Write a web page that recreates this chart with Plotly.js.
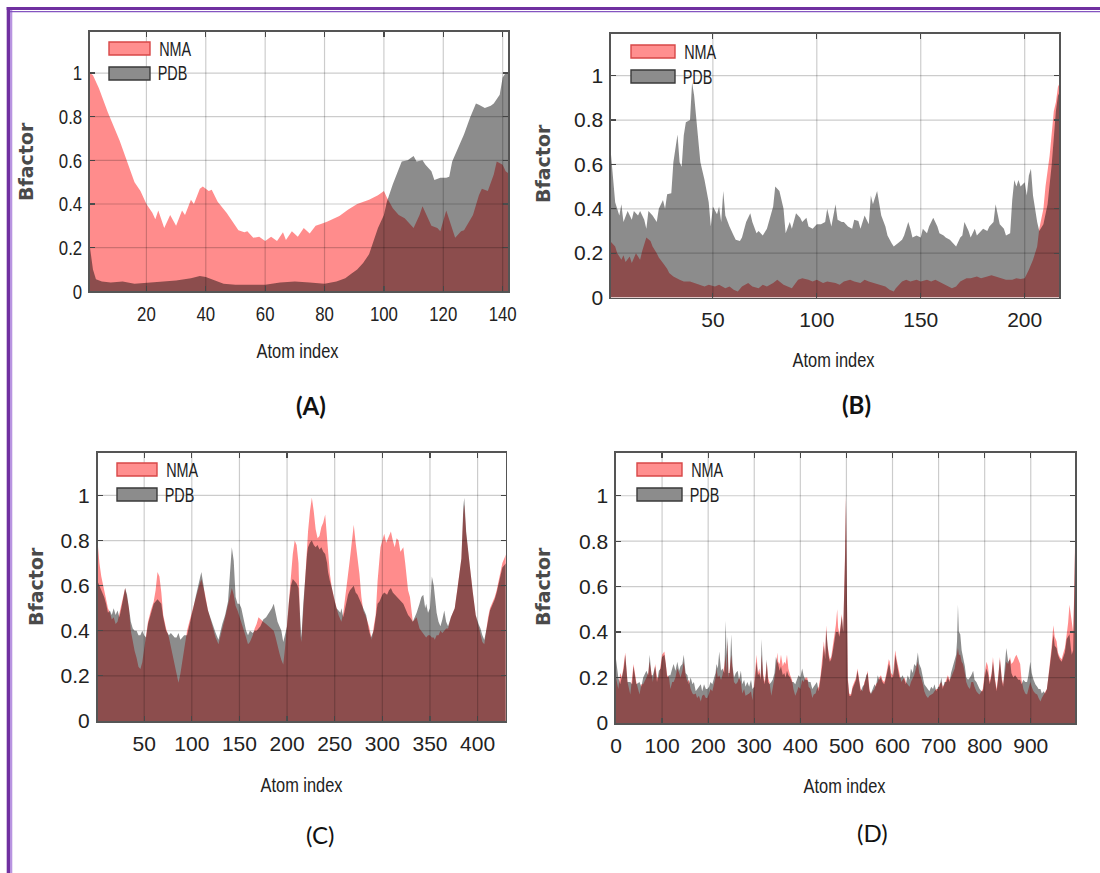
<!DOCTYPE html>
<html>
<head>
<meta charset="utf-8">
<script src="https://cdn.plot.ly/plotly-3.0.1.min.js"></script>
<style>
  html, body { margin: 0; padding: 0; background: #ffffff; }
  #chart { width: 1100px; height: 873px; }
</style>
</head>
<body>
<div id="chart"></div>
<script>
// ---------------- DATA ----------------
// Panel A
const A_nma_x = [1,2,4,7,11,14,16,18,20,22,23,24,26,28,30,32,33,35,36,38,39,41,42,44,47,49,51,53,54,56,58,60,62,64,66,67,69,71,73,75,77,79,81,85,88,91,95,98,100,101,103,105,107,109,110,112,113,114,116,118,119,121,122,124,126,127,130,132,133,135,137,138,140,141,142];
const A_nma_y = [1.0,0.99,0.93,0.82,0.69,0.57,0.5,0.46,0.40,0.36,0.33,0.37,0.29,0.35,0.30,0.37,0.35,0.42,0.40,0.47,0.48,0.46,0.465,0.41,0.36,0.32,0.28,0.27,0.275,0.245,0.25,0.23,0.25,0.23,0.27,0.235,0.275,0.25,0.29,0.265,0.30,0.31,0.32,0.345,0.375,0.40,0.42,0.44,0.46,0.43,0.38,0.35,0.335,0.305,0.29,0.35,0.39,0.36,0.30,0.29,0.275,0.37,0.33,0.245,0.275,0.28,0.35,0.44,0.47,0.46,0.535,0.595,0.58,0.55,0.54];
const A_pdb_x = [1,2,3,5,8,12,16,20,25,30,35,38,40,43,46,50,55,60,65,70,75,80,84,87,89,91,93,95,96,98,100,101,103,105,106,108,110,111,113,114,116,117,119,121,122,123,125,127,129,131,132,134,136,137,139,140,141,142];
const A_pdb_y = [0.20,0.10,0.055,0.045,0.04,0.045,0.035,0.04,0.045,0.05,0.06,0.07,0.065,0.05,0.035,0.03,0.03,0.03,0.04,0.045,0.04,0.035,0.045,0.06,0.08,0.10,0.13,0.17,0.21,0.29,0.35,0.41,0.49,0.565,0.595,0.60,0.62,0.595,0.60,0.58,0.55,0.51,0.52,0.52,0.525,0.595,0.655,0.72,0.795,0.86,0.855,0.84,0.85,0.86,0.90,0.98,1.0,1.0];

// Panel B
const B_pdb_x = [1,2,3,5,6,7,9,11,12,14,15,17,18,19,21,23,24,26,27,28,30,31,33,34,35,36,37,39,40,41,42,43,44,46,48,49,50,52,53,54,55,56,58,60,61,63,64,66,68,69,71,72,74,76,77,79,80,82,84,85,87,88,90,92,93,95,96,98,100,102,104,105,107,109,110,112,113,115,117,118,120,121,123,125,126,127,129,130,131,133,134,136,137,139,141,142,144,145,146,148,150,151,153,154,156,158,159,161,162,164,166,167,169,170,171,173,174,176,177,178,180,182,183,185,186,188,190,191,193,194,195,196,197,198,200,201,202,203,204,206,207,209,211,213,214,215,216,217];
const B_pdb_y = [0.645,0.53,0.43,0.37,0.42,0.34,0.39,0.35,0.39,0.37,0.39,0.35,0.31,0.39,0.37,0.34,0.40,0.44,0.40,0.465,0.47,0.61,0.735,0.61,0.59,0.73,0.79,0.80,0.97,0.91,0.82,0.71,0.61,0.53,0.43,0.32,0.41,0.375,0.41,0.34,0.48,0.37,0.32,0.28,0.26,0.255,0.27,0.34,0.38,0.34,0.29,0.30,0.28,0.31,0.34,0.41,0.50,0.48,0.40,0.29,0.34,0.31,0.38,0.36,0.34,0.36,0.32,0.31,0.33,0.33,0.34,0.40,0.32,0.42,0.35,0.34,0.34,0.32,0.31,0.35,0.345,0.31,0.37,0.33,0.46,0.42,0.48,0.43,0.37,0.32,0.28,0.245,0.23,0.245,0.26,0.28,0.34,0.31,0.27,0.28,0.27,0.31,0.29,0.32,0.36,0.32,0.29,0.28,0.27,0.26,0.24,0.23,0.27,0.28,0.34,0.30,0.27,0.31,0.28,0.29,0.31,0.30,0.32,0.34,0.42,0.33,0.31,0.28,0.29,0.44,0.53,0.50,0.53,0.50,0.52,0.46,0.55,0.58,0.46,0.34,0.30,0.33,0.42,0.60,0.74,0.84,0.91,0.93];
const B_nma_x = [1,3,4,6,7,8,10,11,13,15,16,17,18,20,21,23,24,26,28,29,31,34,36,39,41,44,46,48,51,53,56,58,60,62,64,67,69,72,74,76,79,81,84,86,88,91,93,96,98,100,103,105,109,111,113,116,118,121,123,125,128,130,133,135,137,138,141,143,145,148,150,153,155,157,160,162,165,167,169,172,174,177,179,182,184,186,189,191,194,196,198,200,202,204,206,207,209,210,212,214,215,216,217];
const B_nma_y = [0.25,0.23,0.20,0.17,0.19,0.16,0.185,0.155,0.20,0.17,0.21,0.245,0.27,0.255,0.23,0.20,0.18,0.155,0.13,0.11,0.095,0.08,0.072,0.072,0.065,0.057,0.05,0.057,0.05,0.057,0.042,0.05,0.035,0.027,0.05,0.065,0.05,0.042,0.057,0.05,0.065,0.08,0.057,0.05,0.042,0.08,0.087,0.08,0.072,0.08,0.065,0.072,0.065,0.057,0.072,0.08,0.072,0.065,0.08,0.072,0.065,0.057,0.05,0.035,0.027,0.042,0.072,0.08,0.072,0.08,0.072,0.08,0.072,0.08,0.065,0.057,0.042,0.05,0.072,0.087,0.087,0.095,0.087,0.095,0.10,0.095,0.087,0.08,0.08,0.087,0.083,0.087,0.125,0.17,0.23,0.31,0.40,0.50,0.64,0.84,0.88,0.95,0.97];

// Panel C (shared atom index)
const C_x   = [1,3,5,8,10,12,14,16,18,20,22,24,26,28,30,32,34,36,38,40,42,44,46,48,50,52,54,57,60,62,64,66,68,70,73,76,78,80,82,84,86,88,90,92,95,98,101,104,107,110,112,114,117,120,122,125,128,130,132,135,138,140,142,144,146,148,150,152,154,157,159,161,164,166,168,170,172,175,178,181,184,186,188,190,192,194,196,198,200,202,204,206,208,210,212,214,215,217,219,221,222,224,226,228,230,232,234,236,238,240,242,243,245,247,250,252,254,256,257,259,261,264,266,268,270,272,274,276,278,280,283,286,288,289,291,293,295,297,298,300,302,304,305,307,309,311,313,315,317,319,322,324,325,327,329,332,334,336,339,341,343,345,346,348,350,352,354,355,357,359,361,363,365,367,369,372,376,379,381,383,385,386,388,390,392,395,398,401,403,405,407,409,411,413,416,418,420,422,424,426,428,430];
const C_nma = [0.80,0.70,0.64,0.58,0.53,0.50,0.48,0.45,0.46,0.43,0.44,0.48,0.52,0.55,0.59,0.55,0.50,0.40,0.35,0.31,0.28,0.24,0.23,0.26,0.32,0.38,0.44,0.49,0.53,0.58,0.66,0.64,0.57,0.47,0.41,0.37,0.33,0.29,0.24,0.20,0.17,0.21,0.26,0.33,0.40,0.45,0.50,0.55,0.59,0.63,0.60,0.56,0.49,0.44,0.41,0.37,0.34,0.37,0.41,0.46,0.52,0.56,0.59,0.56,0.51,0.49,0.46,0.43,0.41,0.37,0.34,0.35,0.38,0.41,0.43,0.46,0.45,0.44,0.43,0.42,0.41,0.40,0.37,0.33,0.30,0.27,0.25,0.33,0.44,0.55,0.62,0.74,0.80,0.78,0.70,0.38,0.35,0.50,0.62,0.78,0.84,0.93,0.99,0.93,0.85,0.81,0.82,0.86,0.88,0.915,0.80,0.77,0.65,0.59,0.53,0.50,0.47,0.45,0.44,0.48,0.56,0.65,0.72,0.80,0.87,0.79,0.72,0.65,0.55,0.49,0.46,0.42,0.38,0.36,0.42,0.47,0.62,0.70,0.77,0.80,0.83,0.79,0.80,0.82,0.84,0.80,0.77,0.81,0.80,0.75,0.77,0.70,0.65,0.58,0.55,0.44,0.45,0.46,0.41,0.40,0.39,0.38,0.37,0.38,0.38,0.37,0.37,0.36,0.38,0.38,0.40,0.39,0.40,0.41,0.41,0.46,0.50,0.59,0.66,0.72,0.92,0.96,0.83,0.74,0.68,0.57,0.47,0.42,0.39,0.35,0.34,0.41,0.46,0.50,0.53,0.55,0.58,0.62,0.66,0.70,0.72,0.74];
const C_pdb = [0.62,0.60,0.58,0.55,0.52,0.48,0.49,0.47,0.50,0.47,0.49,0.46,0.50,0.54,0.59,0.56,0.50,0.44,0.41,0.40,0.40,0.38,0.38,0.40,0.38,0.37,0.43,0.48,0.52,0.53,0.54,0.53,0.52,0.46,0.40,0.38,0.39,0.38,0.37,0.37,0.39,0.36,0.37,0.38,0.38,0.43,0.49,0.55,0.60,0.66,0.61,0.55,0.49,0.45,0.42,0.39,0.36,0.40,0.43,0.47,0.53,0.65,0.77,0.71,0.55,0.52,0.52,0.50,0.46,0.40,0.38,0.40,0.39,0.40,0.40,0.41,0.42,0.45,0.46,0.48,0.50,0.52,0.48,0.44,0.42,0.40,0.35,0.38,0.42,0.53,0.60,0.63,0.62,0.61,0.59,0.40,0.37,0.52,0.65,0.74,0.77,0.79,0.80,0.78,0.77,0.78,0.76,0.77,0.75,0.74,0.70,0.66,0.62,0.59,0.53,0.50,0.49,0.48,0.50,0.46,0.50,0.56,0.58,0.59,0.60,0.57,0.56,0.54,0.52,0.50,0.47,0.40,0.37,0.38,0.40,0.46,0.52,0.53,0.54,0.56,0.57,0.56,0.56,0.58,0.59,0.57,0.56,0.55,0.54,0.53,0.52,0.50,0.49,0.47,0.46,0.44,0.46,0.48,0.52,0.55,0.56,0.50,0.52,0.48,0.50,0.64,0.60,0.56,0.48,0.44,0.42,0.45,0.49,0.44,0.42,0.46,0.50,0.59,0.66,0.72,0.95,0.99,0.84,0.75,0.68,0.57,0.47,0.43,0.41,0.38,0.36,0.40,0.45,0.49,0.52,0.54,0.57,0.61,0.64,0.68,0.69,0.70];

// Panel D (shared atom index)
const D_x   = [0,5,9,13,17,20,25,31,35,38,44,51,55,59,66,70,73,77,80,85,89,93,97,100,105,108,111,115,118,122,125,129,133,137,140,144,147,151,155,158,162,166,169,173,176,180,184,187,191,195,198,202,205,209,213,216,218,221,224,228,231,235,238,240,242,244,247,250,253,256,260,264,267,271,274,278,281,285,289,293,296,300,303,305,308,311,314,316,319,322,325,327,330,333,337,340,344,347,350,352,355,358,362,365,368,371,374,378,382,385,389,393,396,400,404,407,411,415,418,422,426,429,433,436,440,444,448,451,454,456,459,461,464,467,470,474,477,480,482,485,488,490,493,495,497,499,501,503,506,510,513,517,521,524,527,531,535,539,543,546,550,553,557,561,564,568,571,575,578,582,586,589,592,594,597,601,604,606,609,611,615,619,622,626,629,633,637,640,644,647,651,655,658,662,666,669,673,677,680,684,688,691,695,699,702,706,709,713,717,720,724,727,731,735,738,740,742,744,747,750,753,757,760,764,768,771,775,778,782,786,789,793,796,800,804,807,811,815,818,822,826,830,833,837,840,844,847,851,855,858,862,866,869,873,877,880,884,888,892,895,899,902,906,910,914,917,921,924,928,931,935,938,942,945,949,952,956,959,963,967,971,974,978,981,984,987,989,992,994,996];
const D_nma = [0.20,0.15,0.22,0.20,0.26,0.31,0.18,0.125,0.20,0.26,0.18,0.125,0.17,0.17,0.20,0.22,0.27,0.22,0.18,0.26,0.20,0.20,0.26,0.30,0.315,0.25,0.21,0.20,0.15,0.18,0.18,0.20,0.24,0.22,0.20,0.23,0.27,0.21,0.18,0.19,0.15,0.13,0.125,0.13,0.11,0.12,0.095,0.12,0.125,0.11,0.11,0.13,0.15,0.14,0.17,0.20,0.24,0.20,0.21,0.19,0.21,0.25,0.30,0.22,0.36,0.20,0.24,0.30,0.24,0.18,0.17,0.18,0.20,0.18,0.13,0.15,0.12,0.125,0.13,0.14,0.10,0.18,0.24,0.30,0.22,0.24,0.20,0.30,0.22,0.18,0.22,0.27,0.20,0.18,0.12,0.15,0.20,0.24,0.31,0.27,0.26,0.30,0.25,0.27,0.26,0.30,0.24,0.21,0.19,0.15,0.12,0.14,0.16,0.15,0.19,0.18,0.20,0.20,0.16,0.15,0.11,0.125,0.13,0.15,0.16,0.21,0.28,0.36,0.30,0.43,0.34,0.315,0.28,0.29,0.33,0.39,0.43,0.50,0.42,0.39,0.44,0.48,0.40,0.55,0.75,1.00,0.55,0.20,0.13,0.125,0.16,0.18,0.20,0.24,0.20,0.15,0.14,0.18,0.20,0.23,0.15,0.125,0.14,0.15,0.17,0.18,0.20,0.21,0.19,0.18,0.21,0.24,0.28,0.27,0.22,0.21,0.26,0.32,0.28,0.26,0.21,0.18,0.19,0.20,0.18,0.17,0.16,0.18,0.20,0.21,0.24,0.27,0.22,0.20,0.17,0.14,0.12,0.11,0.12,0.125,0.13,0.14,0.15,0.15,0.17,0.18,0.16,0.17,0.19,0.21,0.19,0.20,0.22,0.24,0.28,0.30,0.33,0.30,0.30,0.27,0.26,0.22,0.18,0.16,0.15,0.18,0.18,0.16,0.14,0.13,0.125,0.14,0.15,0.22,0.27,0.25,0.18,0.22,0.29,0.20,0.15,0.22,0.29,0.20,0.17,0.22,0.27,0.26,0.29,0.26,0.27,0.29,0.30,0.28,0.26,0.19,0.15,0.13,0.125,0.15,0.18,0.16,0.14,0.13,0.125,0.11,0.095,0.11,0.125,0.13,0.15,0.20,0.27,0.33,0.43,0.38,0.36,0.31,0.29,0.28,0.31,0.33,0.39,0.44,0.52,0.48,0.45,0.40,0.55,0.78];
const D_pdb = [0.28,0.20,0.17,0.20,0.24,0.30,0.18,0.18,0.17,0.25,0.17,0.18,0.16,0.20,0.23,0.21,0.30,0.21,0.21,0.25,0.18,0.23,0.24,0.29,0.30,0.26,0.20,0.21,0.21,0.24,0.26,0.23,0.27,0.23,0.25,0.26,0.30,0.22,0.21,0.17,0.20,0.17,0.18,0.14,0.15,0.16,0.17,0.14,0.17,0.15,0.15,0.16,0.18,0.17,0.20,0.22,0.26,0.24,0.315,0.23,0.24,0.22,0.45,0.30,0.38,0.22,0.22,0.39,0.25,0.20,0.22,0.23,0.19,0.23,0.17,0.19,0.16,0.18,0.16,0.19,0.15,0.16,0.22,0.27,0.21,0.22,0.19,0.37,0.21,0.17,0.20,0.28,0.18,0.17,0.18,0.19,0.22,0.29,0.27,0.26,0.23,0.25,0.21,0.22,0.20,0.23,0.21,0.20,0.18,0.18,0.17,0.20,0.21,0.20,0.24,0.21,0.19,0.19,0.18,0.18,0.15,0.16,0.17,0.18,0.14,0.20,0.26,0.34,0.28,0.41,0.33,0.30,0.27,0.28,0.31,0.37,0.40,0.40,0.40,0.38,0.43,0.47,0.40,0.55,0.72,0.98,0.52,0.19,0.12,0.12,0.15,0.17,0.19,0.23,0.19,0.14,0.16,0.17,0.21,0.22,0.14,0.13,0.15,0.17,0.16,0.21,0.19,0.20,0.18,0.17,0.20,0.23,0.26,0.25,0.20,0.20,0.24,0.30,0.27,0.25,0.20,0.20,0.21,0.19,0.17,0.21,0.19,0.24,0.22,0.26,0.25,0.31,0.26,0.24,0.20,0.17,0.16,0.15,0.14,0.16,0.15,0.17,0.14,0.16,0.16,0.20,0.15,0.18,0.18,0.20,0.18,0.22,0.25,0.27,0.30,0.36,0.52,0.40,0.39,0.32,0.29,0.25,0.20,0.19,0.20,0.21,0.23,0.19,0.18,0.16,0.15,0.14,0.14,0.20,0.24,0.22,0.17,0.21,0.27,0.19,0.14,0.21,0.28,0.19,0.16,0.26,0.33,0.27,0.28,0.22,0.20,0.21,0.20,0.19,0.19,0.17,0.19,0.18,0.18,0.21,0.27,0.22,0.19,0.17,0.16,0.15,0.15,0.13,0.14,0.13,0.15,0.19,0.26,0.31,0.39,0.34,0.33,0.30,0.28,0.27,0.29,0.31,0.37,0.38,0.39,0.33,0.30,0.32,0.50,0.75];

// Ticks and labels
const yTickVals = [0, 0.2, 0.4, 0.6, 0.8, 1];
const yTickText = ['0', '0.2', '0.4', '0.6', '0.8', '1'];
const A_xticks = [20, 40, 60, 80, 100, 120, 140];
const B_xticks = [50, 100, 150, 200];
const C_xticks = [50, 100, 150, 200, 250, 300, 350, 400];
const D_xticks = [0, 100, 200, 300, 400, 500, 600, 700, 800, 900];
const seriesNames = ['NMA', 'PDB'];
const panelLabels = ['(A)', '(B)', '(C)', '(D)'];
const xTitle = 'Atom index';
const yTitle = 'Bfactor';

// ---------------- STYLE / LAYOUT ----------------
const W = 1100, H = 873;
const NMA_FILL = 'rgba(255,0,0,0.45)';
const PDB_FILL = 'rgba(0,0,0,0.45)';
const GRID = 'rgba(0,0,0,0.2)';
const SANS = '"Liberation Sans", Arial, sans-serif';
const px = v => v / W;
const py = v => 1 - v / H;

// panel boxes in pixels: left, right, top, bottom
const boxes = [
  {l: 90,   r: 508,   t: 32,  b: 291.3, xr: [1, 141.8], ticks: A_xticks},
  {l: 611,  r: 1059,  t: 34,  b: 297.5, xr: [1, 216.5], ticks: B_xticks},
  {l: 97.5, r: 505.7, t: 453, b: 721,   xr: [1, 429.5], ticks: C_xticks},
  {l: 616,  r: 1075,  t: 453, b: 723,   xr: [0, 996],   ticks: D_xticks}
];
const YMAX = 1.188;

function area(x, y, fill, n, name) {
  return {
    type: 'scatter', mode: 'lines', x: x, y: y, name: name,
    fill: 'tozeroy', fillcolor: fill, line: {width: 0, color: fill},
    xaxis: n === 1 ? 'x' : 'x' + n, yaxis: n === 1 ? 'y' : 'y' + n,
    showlegend: false, hoverinfo: 'skip'
  };
}

const data = [
  area(A_nma_x, A_nma_y, NMA_FILL, 1, seriesNames[0]),
  area(A_pdb_x, A_pdb_y, PDB_FILL, 1, seriesNames[1]),
  area(B_nma_x, B_nma_y, NMA_FILL, 2, seriesNames[0]),
  area(B_pdb_x, B_pdb_y, PDB_FILL, 2, seriesNames[1]),
  area(C_x, C_nma, NMA_FILL, 3, seriesNames[0]),
  area(C_x, C_pdb, PDB_FILL, 3, seriesNames[1]),
  area(D_x, D_nma, NMA_FILL, 4, seriesNames[0]),
  area(D_x, D_pdb, PDB_FILL, 4, seriesNames[1])
];

const layout = {
  width: W, height: H, autosize: false,
  margin: {l: 0, r: 0, t: 0, b: 0},
  paper_bgcolor: '#ffffff', plot_bgcolor: '#ffffff',
  showlegend: false,
  shapes: [], annotations: []
};

boxes.forEach((bx, i) => {
  const n = i + 1;
  const xk = n === 1 ? 'xaxis' : 'xaxis' + n;
  const yk = n === 1 ? 'yaxis' : 'yaxis' + n;
  const xid = n === 1 ? 'x' : 'x' + n;
  const yid = n === 1 ? 'y' : 'y' + n;
  const common = {
    showgrid: false, zeroline: false, showline: true, mirror: 'ticks',
    linecolor: '#555', linewidth: 1.6, ticks: 'inside', ticklen: 5,
    tickcolor: '#555', tickwidth: 1.2, layer: 'above traces', fixedrange: true,
    tickfont: {family: SANS, size: 21, color: '#222'}
  };
  layout[xk] = Object.assign({}, common, {
    domain: [px(bx.l), px(bx.r)], range: bx.xr, anchor: yid,
    tickmode: 'array', tickvals: bx.ticks, ticktext: bx.ticks.map(String),
    ticklabelstandoff: 3
  });
  layout[yk] = Object.assign({}, common, {
    domain: [py(bx.b), py(bx.t)], range: [0, YMAX], anchor: xid,
    tickmode: 'array', tickvals: yTickVals, ticktext: yTickText,
    ticklabelstandoff: 2
  });
  // grid lines drawn over the areas, as in the reference
  bx.ticks.forEach(v => {
    if (v <= bx.xr[0]) return;
    layout.shapes.push({type: 'line', xref: xid, yref: yid + ' domain', x0: v, x1: v, y0: 0, y1: 1,
      line: {color: GRID, width: 1.2}, layer: 'above'});
  });
  yTickVals.slice(1).forEach(v => {
    layout.shapes.push({type: 'line', xref: xid + ' domain', yref: yid, x0: 0, x1: 1, y0: v, y1: v,
      line: {color: GRID, width: 1.2}, layer: 'above'});
  });
});

// legend swatches + labels (pixel positions)
const legendPos = [
  {l: 109, r: 150, t1: 42,  t2: 67,  tx: 159, c1: 49,  c2: 73},
  {l: 631, r: 675, t1: 45,  t2: 70,  tx: 684, c1: 52,  c2: 77},
  {l: 117, r: 157, t1: 463, t2: 488, tx: 166, c1: 470, c2: 495},
  {l: 637, r: 682, t1: 463, t2: 488, tx: 691, c1: 470, c2: 495}
];
legendPos.forEach(lg => {
  layout.shapes.push({type: 'rect', xref: 'paper', yref: 'paper', layer: 'above',
    x0: px(lg.l), x1: px(lg.r), y0: py(lg.t1 + 13), y1: py(lg.t1),
    fillcolor: '#ff8f8f', line: {color: '#d84848', width: 1.4}});
  layout.shapes.push({type: 'rect', xref: 'paper', yref: 'paper', layer: 'above',
    x0: px(lg.l), x1: px(lg.r), y0: py(lg.t2 + 13), y1: py(lg.t2),
    fillcolor: '#8c8c8c', line: {color: '#3a3a3a', width: 1.4}});
  layout.annotations.push({xref: 'paper', yref: 'paper', x: px(lg.tx + 16), y: py(lg.c1),
    xanchor: 'center', yanchor: 'middle', showarrow: false, text: seriesNames[0],
    font: {family: SANS, size: 20, color: '#222'}});
  layout.annotations.push({xref: 'paper', yref: 'paper', x: px(lg.tx + 13), y: py(lg.c2),
    xanchor: 'center', yanchor: 'middle', showarrow: false, text: seriesNames[1],
    font: {family: SANS, size: 20, color: '#222'}});
});

// axis titles
const xTitlePos = [[298, 350], [834, 359], [302, 784], [845, 785]];
const yTitlePos = [[26, 162], [543, 164], [36, 587], [543, 587]];
xTitlePos.forEach(p => layout.annotations.push({xref: 'paper', yref: 'paper', x: px(p[0]), y: py(p[1]),
  xanchor: 'center', yanchor: 'middle', showarrow: false, text: xTitle,
  font: {family: SANS, size: 21, color: '#222'}}));
yTitlePos.forEach(p => layout.annotations.push({xref: 'paper', yref: 'paper', x: px(p[0]), y: py(p[1]),
  xanchor: 'center', yanchor: 'middle', showarrow: false, text: yTitle, textangle: -90,
  font: {family: '"DejaVu Sans", sans-serif', size: 19, color: '#4a4a4a', weight: 'bold'}}));

// panel labels
const panelPos = [[311, 405, 'bold'], [856, 404, 'bold'], [320, 834, 'normal'], [872, 832, 'normal']];
panelPos.forEach((p, i) => layout.annotations.push({xref: 'paper', yref: 'paper', x: px(p[0]), y: py(p[1]),
  xanchor: 'center', yanchor: 'middle', showarrow: false, text: panelLabels[i],
  font: {family: 'Lato, "Open Sans", sans-serif', size: 24, color: '#111', weight: p[2]}}));

// purple frame
const PURPLE = '#7030a0';
layout.shapes.push({type: 'rect', xref: 'paper', yref: 'paper', layer: 'above', line: {width: 0},
  fillcolor: PURPLE, x0: px(6.7), x1: px(10), y0: 0, y1: py(7)});
layout.shapes.push({type: 'rect', xref: 'paper', yref: 'paper', layer: 'above', line: {width: 0},
  fillcolor: '#b894e0', x0: px(10), x1: px(12.3), y0: 0, y1: py(10)});
layout.shapes.push({type: 'rect', xref: 'paper', yref: 'paper', layer: 'above', line: {width: 0},
  fillcolor: PURPLE, x0: px(6.7), x1: 1, y0: py(10), y1: py(7)});
layout.shapes.push({type: 'rect', xref: 'paper', yref: 'paper', layer: 'above', line: {width: 0},
  fillcolor: '#8455c0', x0: px(10), x1: 1, y0: py(12.3), y1: py(11)});

// The reference uses a narrow typeface; squeeze these labels horizontally.
function narrowText() {
  const factors = {};
  factors[xTitle] = 0.78;
  seriesNames.forEach(s => { factors[s] = 0.72; });
  document.querySelectorAll('#chart text').forEach(t => {
    const isTick = t.closest('.xtick') || t.closest('.ytick');
    const content = (t.textContent || '').trim();
    const f = isTick ? 0.8 : factors[content];
    if (!f) return;
    const L = t.getComputedTextLength();
    if (L > 0) {
      t.setAttribute('textLength', (L * f).toFixed(2));
      t.setAttribute('lengthAdjust', 'spacingAndGlyphs');
    }
  });
}

Plotly.newPlot('chart', data, layout, {displayModeBar: false, staticPlot: true}).then(narrowText);
</script>
</body>
</html>
